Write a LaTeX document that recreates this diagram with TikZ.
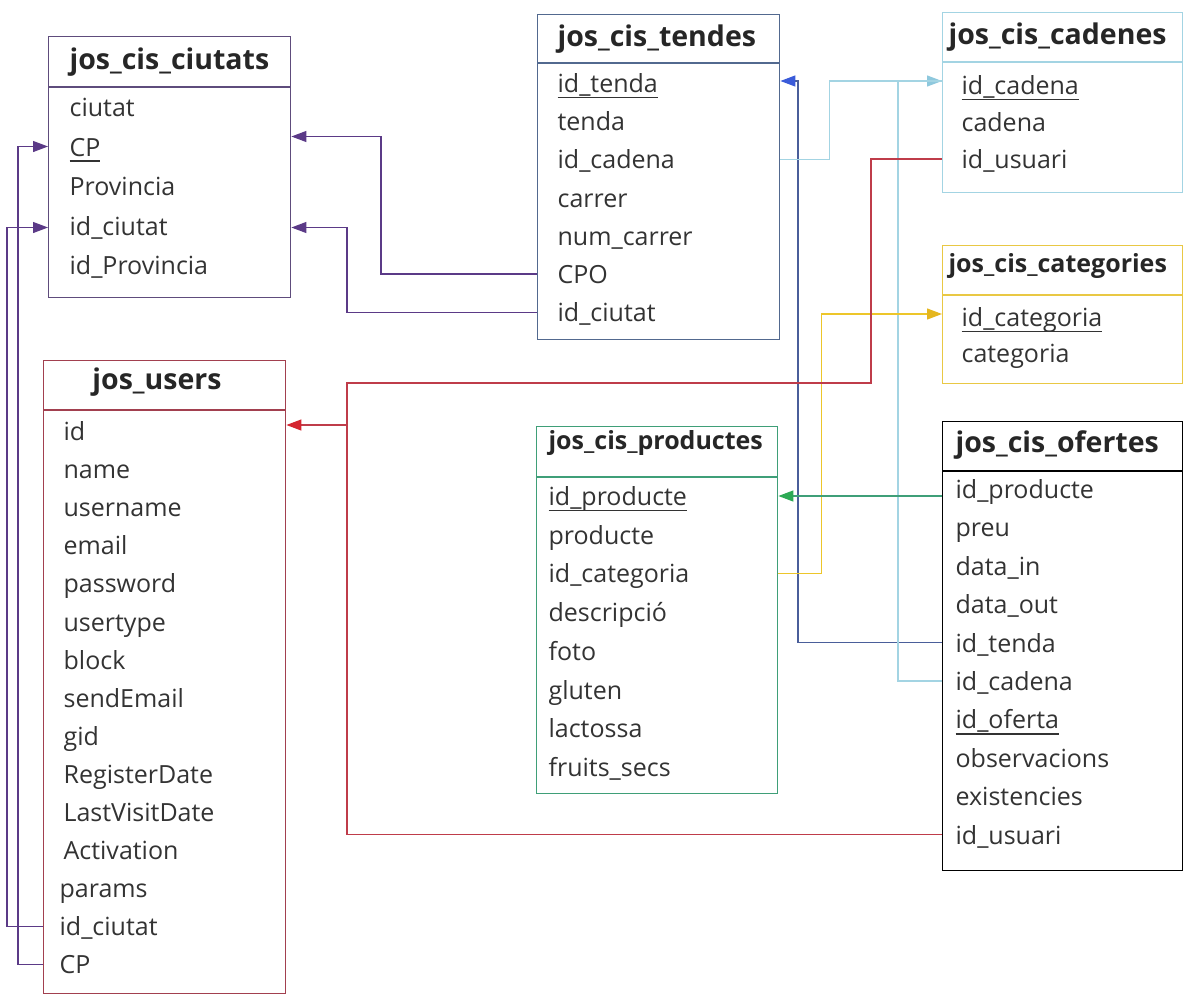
\documentclass[tikz,border=0pt]{standalone}
\usepackage{fontspec}
\setmainfont{Open Sans}
\usetikzlibrary{arrows.meta}
\definecolor{ciu}{HTML}{5B3A87}
\definecolor{ciubox}{HTML}{5E4C7C}
\definecolor{tenbox}{HTML}{52698F}
\definecolor{ten}{HTML}{4A5E9A}
\definecolor{tenarr}{HTML}{3A5BD9}
\definecolor{cad}{HTML}{A3D4E3}
\definecolor{cadarr}{HTML}{8EC8DD}
\definecolor{cat}{HTML}{E9C844}
\definecolor{catline}{HTML}{EDC62A}
\definecolor{catarr}{HTML}{E5B61E}
\definecolor{pro}{HTML}{3F9F78}
\definecolor{proarr}{HTML}{2DAA55}
\definecolor{usr}{HTML}{A2404F}
\definecolor{usrline}{HTML}{BF3C4A}
\definecolor{usrarr}{HTML}{D42530}
\definecolor{txt}{HTML}{333333}
\newcommand\pkey[1]{\setbox0\hbox{#1}\rlap{\vrule width\wd0 height -4pt depth 5.8pt}\box0}

\begin{document}
\begin{tikzpicture}[x=1pt,y=-1pt,line width=1.2pt,
  tbl/.style={draw=#1,line width=1.4pt,anchor=north west,inner sep=0pt},
  fld/.style={anchor=west,inner sep=0pt,text height=24pt,text depth=5pt,text=txt,font=\fontsize{25}{30}\selectfont},
  ttl/.style={anchor=west,inner sep=0pt,text height=27pt,text depth=6pt,text=black!85,font=\fontsize{28.5}{33}\selectfont\bfseries},
  sttl/.style={ttl,text height=25pt,font=\fontsize{25}{30}\selectfont\bfseries},
  fk/.style 2 args={draw=#1,-{Triangle[length=15pt,width=11pt,color=#2]}}]
\useasboundingbox (0,0) rectangle (1184,996);

\node[tbl=ciubox,minimum width=242pt,minimum height=261pt] (ciutats) at (48,36) {};
\draw[ciubox,line width=1.4pt] (ciutats.north west) ++(0,51) -- ++(242,0);
\node[ttl] (ciutats-t) at (69,59) {jos\_cis\_ciutats};
\foreach \f [count=\i] in {ciutat,\pkey{CP},Provincia,id\_ciutat,id\_Provincia}
  \node[fld] (ciu-\i) at (69,107+39.5*\i-39.5) {\f};

\node[tbl=tenbox,minimum width=242pt,minimum height=325pt] (tendes) at (537,14) {};
\draw[tenbox,line width=1.4pt] (tendes.north west) ++(0,49) -- ++(242,0);
\node[ttl] (tendes-t) at (557,36) {jos\_cis\_tendes};
\foreach \f [count=\i] in {\pkey{id\_tenda},tenda,id\_cadena,carrer,num\_carrer,CPO,id\_ciutat}
  \node[fld] (ten-\i) at (557,83+38.2*\i-38.2) {\f};

\node[tbl=cad,minimum width=240pt,minimum height=180pt] (cadenes) at (942,12) {};
\draw[cad,line width=1.4pt] (cadenes.north west) ++(0,50) -- ++(240,0);
\node[ttl] (cadenes-t) at (948,34) {jos\_cis\_cadenes};
\foreach \f [count=\i] in {\pkey{id\_cadena},cadena,id\_usuari}
  \node[fld] (cad-\i) at (961,85+37*\i-37) {\f};

\node[tbl=cat,minimum width=240pt,minimum height=138pt] (categories) at (942,245) {};
\draw[cat,line width=1.4pt] (categories.north west) ++(0,50) -- ++(240,0);
\node[sttl] (categories-t) at (948,263) {jos\_cis\_categories};
\foreach \f [count=\i] in {\pkey{id\_categoria},categoria}
  \node[fld] (cat-\i) at (961,317+36*\i-36) {\f};

\node[tbl=pro,minimum width=241pt,minimum height=367pt] (productes) at (536,426) {};
\draw[pro,line width=1.4pt] (productes.north west) ++(0,51) -- ++(241,0);
\node[sttl] (productes-t) at (548,440) {jos\_cis\_productes};
\foreach \f [count=\i] in {\pkey{id\_producte},producte,id\_categoria,descripció,foto,gluten,lactossa,fruits\_secs}
  \node[fld] (pro-\i) at (548,496+38.7*\i-38.7) {\f};

\node[tbl=black,minimum width=240pt,minimum height=449pt] (ofertes) at (942,421) {};
\draw[line width=1.4pt] (ofertes.north west) ++(0,50) -- ++(240,0);
\node[ttl] (ofertes-t) at (955,442) {jos\_cis\_ofertes};
\foreach \f [count=\i] in {id\_producte,preu,data\_in,data\_out,id\_tenda,id\_cadena,\pkey{id\_oferta},observacions,existencies,id\_usuari}
  \node[fld] (ofe-\i) at (955,489+38.4*\i-38.4) {\f};

\node[tbl=usr,minimum width=242pt,minimum height=633pt] (users) at (43,360) {};
\draw[usr,line width=1.4pt] (users.north west) ++(0,50) -- ++(242,0);
\node[ttl,anchor=center] (users-t) at (157,379) {jos\_users};
\foreach \f/\dx [count=\i] in {id/0,name/0,username/0,email/0,password/0,usertype/0,block/0,sendEmail/0,gid/0,RegisterDate/0,LastVisitDate/0,Activation/0,params/-4,id\_ciutat/-4,CP/-4}
  \node[fld] (usr-\i) at (63+\dx,431+38.1*\i-38.1) {\f};

\coordinate (redtop) at (347,383);
\coordinate (redbus) at (347,425);
\draw[fk={ciu}{ciu}] (ten-6 -| tendes.west) -- ++(-156,0) |- ([yshift=10pt]ciu-2 -| ciutats.east);
\draw[fk={ciu}{ciu}] (ten-7 -| tendes.west) -- ++(-190,0) |- ([yshift=-2pt]ciu-4 -| ciutats.east);
\draw[fk={ciu}{ciu}] (usr-14 -| users.west) -- ++(-36,0) |- ([yshift=-2pt]ciu-4 -| ciutats.west);
\draw[fk={ciu}{ciu}] (usr-15 -| users.west) -- ++(-25,0) |- (ciu-2 -| ciutats.west);
\draw[fk={ten}{tenarr}] (ofe-5 -| ofertes.west) -- ++(-144,0) |- ([yshift=2pt]ten-1 -| tendes.east);
\draw[fk={cad}{cadarr}] (ten-3 -| tendes.east) -- ++(49,0) |- ([yshift=4pt]cad-1 -| cadenes.west);
\draw[cad] (ofe-6 -| ofertes.west) -- ++(-44,0) |- ([yshift=4pt]cad-1 -| cadenes.west);
\draw[fk={catline}{catarr}] (pro-3 -| productes.east) -- ++(43,0) |- ([yshift=3pt]cat-1 -| categories.west);
\draw[fk={pro}{proarr}] (pro-1 -| ofertes.west) -- (pro-1 -| productes.east);
\draw[usrline] (cad-3 -| cadenes.west) -- ++(-71,0) |- (redtop) -- (redbus);
\draw[usrline] (ofe-10 -| ofertes.west) -| (redbus);
\draw[fk={usrline}{usrarr}] (redbus) -- (redbus -| users.east);
\end{tikzpicture}
\end{document}
